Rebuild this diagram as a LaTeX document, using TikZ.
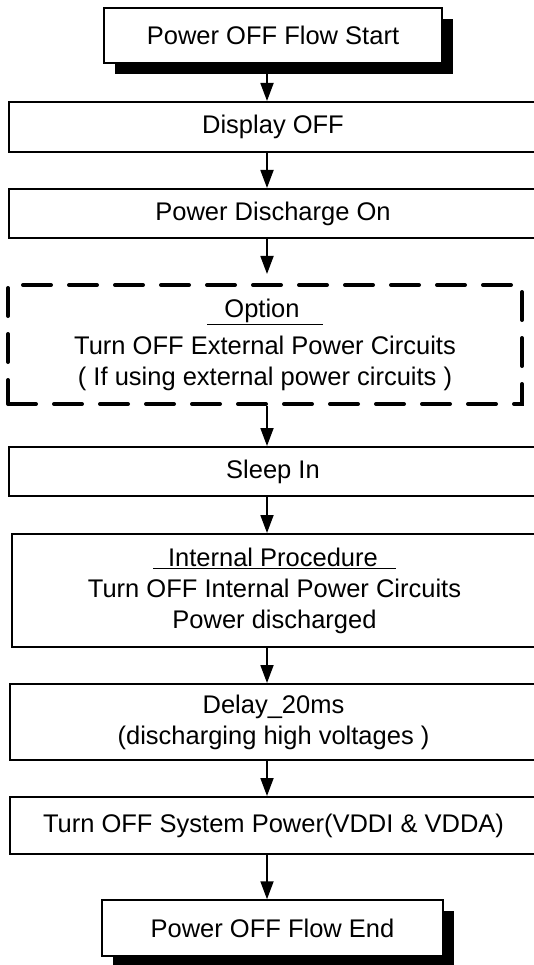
\documentclass[tikz,border=0pt]{standalone}
\usepackage{fontspec}
\setmainfont{Liberation Sans}
\usetikzlibrary{arrows.meta,shadows}

\tikzset{
  stepbox/.style={draw, line width=2pt, fill=white, align=center, inner sep=0pt,
    font=\fontsize{25.5}{31}\selectfont},
  termbox/.style={stepbox, line width=1.5pt,
    general shadow={fill=black, shadow xshift=11pt, shadow yshift=-11pt}},
  optbox/.style={stepbox, line width=4pt, line cap=round, dash pattern=on 28pt off 18pt},
  flow/.style={line width=1.8pt, -{Triangle[length=18pt,width=13pt]}}
}

\begin{document}
\begin{tikzpicture}[x=1pt, y=-1pt]
\useasboundingbox (0,0) rectangle (534,965);
\coordinate (ax) at (267,0);

\node[termbox, minimum width=338, minimum height=55] (start) at (273,35.5) {Power OFF Flow Start};
\node[stepbox, minimum width=528, minimum height=50] (dispoff) at (273,127) {Display OFF};
\node[stepbox, minimum width=528, minimum height=49] (dischg) at (273,213.5) {Power Discharge On};

% optional step
\node[optbox, minimum width=514, minimum height=119] (option) at (265,344.5)
  {\underline{\hspace{17pt}Option\hspace{23pt}}\\[6pt]
   Turn OFF External Power Circuits\\
   ( If using external power circuits )};

\node[stepbox, minimum width=528, minimum height=49] (sleep) at (273,471.5) {Sleep In};
\node[stepbox, minimum width=525, minimum height=113] (intproc) at (274.5,590.5)
  {\underline{\hspace{15pt}Internal Procedure\hspace{18pt}}\\
   Turn OFF Internal Power Circuits\\
   Power discharged};
\node[stepbox, minimum width=527, minimum height=76] (delay) at (273.5,722)
  {Delay\_20ms\\(discharging high voltages )};
\node[stepbox, minimum width=527, minimum height=57] (syspwr) at (273.5,825.5)
  {Turn OFF System Power(VDDI \& VDDA)};
\node[termbox, minimum width=341, minimum height=56] (stop) at (272.5,928) {Power OFF Flow End};

\draw[flow] (start.south -| ax) -- (dispoff.north -| ax);
\draw[flow] (dispoff.south -| ax) -- (dischg.north -| ax);
\draw[flow, shorten >=9pt] (dischg.south -| ax) -- (option.north -| ax);
\draw[flow] (option.south -| ax) -- (sleep.north -| ax);
\draw[flow] (sleep.south -| ax) -- (intproc.north -| ax);
\draw[flow] (intproc.south -| ax) -- (delay.north -| ax);
\draw[flow] (delay.south -| ax) -- (syspwr.north -| ax);
\draw[flow] (syspwr.south -| ax) -- (stop.north -| ax);
\end{tikzpicture}
\end{document}
